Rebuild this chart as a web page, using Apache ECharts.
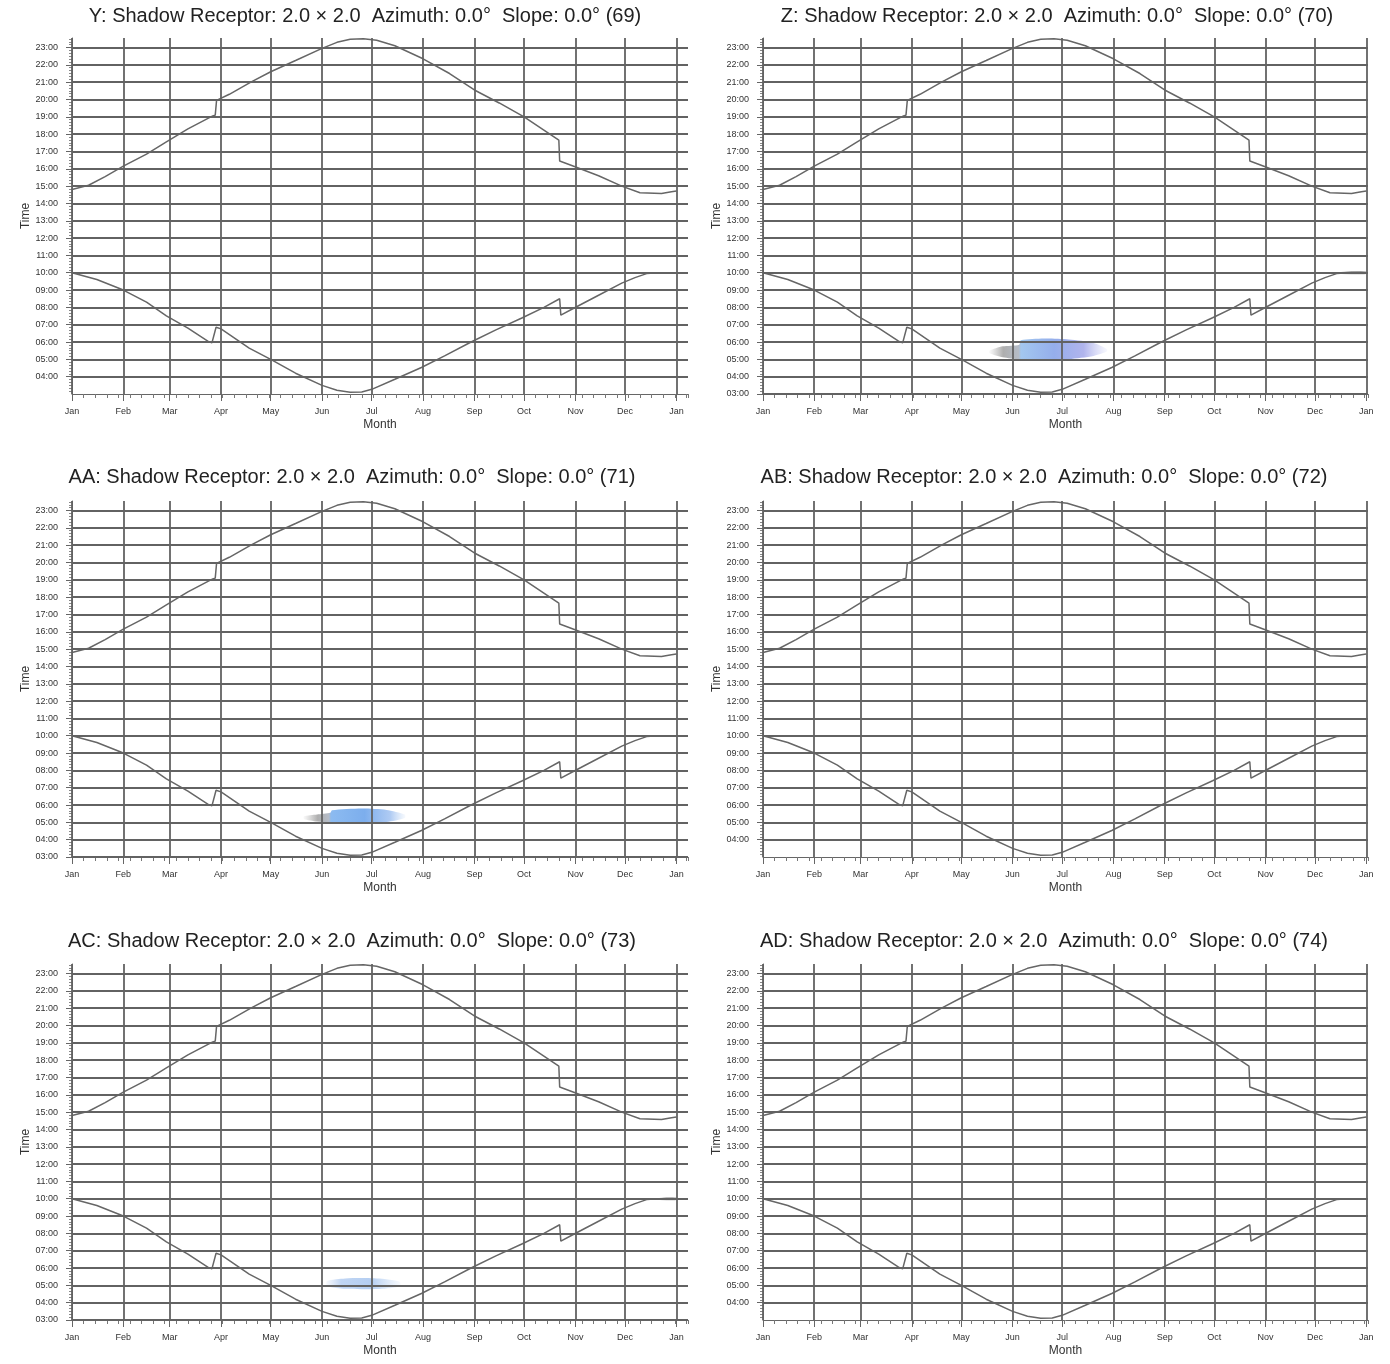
<!DOCTYPE html>
<html><head><meta charset="utf-8">
<script src="https://cdn.jsdelivr.net/npm/echarts@6/dist/echarts.min.js"></script>
<style>html,body{margin:0;padding:0;background:#fff}#c{width:1390px;height:1364px}</style>
</head><body><div id="c"></div>
<script>
// ---------- DATA ----------
const monthLabels = ['Jan','Feb','Mar','Apr','May','Jun','Jul','Aug','Sep','Oct','Nov','Dec','Jan'];
const monthStarts = [0,31,59,90,120,151,181,212,243,273,304,334,365];
const timeTicksFrom4 = [4,5,6,7,8,9,10,11,12,13,14,15,16,17,18,19,20,21,22,23];
const timeTicksFrom3 = [3,4,5,6,7,8,9,10,11,12,13,14,15,16,17,18,19,20,21,22,23];
const panelTitles = [
  'Y: Shadow Receptor: 2.0 \u00d7 2.0  Azimuth: 0.0\u00b0  Slope: 0.0\u00b0 (69)',
  'Z: Shadow Receptor: 2.0 \u00d7 2.0  Azimuth: 0.0\u00b0  Slope: 0.0\u00b0 (70)',
  'AA: Shadow Receptor: 2.0 \u00d7 2.0  Azimuth: 0.0\u00b0  Slope: 0.0\u00b0 (71)',
  'AB: Shadow Receptor: 2.0 \u00d7 2.0  Azimuth: 0.0\u00b0  Slope: 0.0\u00b0 (72)',
  'AC: Shadow Receptor: 2.0 \u00d7 2.0  Azimuth: 0.0\u00b0  Slope: 0.0\u00b0 (73)',
  'AD: Shadow Receptor: 2.0 \u00d7 2.0  Azimuth: 0.0\u00b0  Slope: 0.0\u00b0 (74)'
];
// upper boundary (sunset), day of year -> hour
const sunsetDays  = [0,10,20,31,45,57,70,85,86.5,87.3,95,108,120,135,151,160,168,176,184,195,212,228,243,258,273,287,294,294.5,303,318,332,343,356,362,365];
const sunsetTimes = [14.8,15.05,15.55,16.15,16.85,17.55,18.3,19.05,19.1,19.95,20.3,21.0,21.6,22.25,22.95,23.3,23.48,23.5,23.42,23.1,22.35,21.5,20.55,19.8,19.0,18.1,17.65,16.45,16.15,15.6,15.0,14.62,14.58,14.68,14.72];
// lower boundary (sunrise)
const sunriseDays  = [0,15,31,45,57,70,82,84.5,85.5,87,90,107,120,135,151,160,168,175,181,195,211,225,241,256,272,285,294.5,295.2,303,318,332,340,347,354];
const sunriseTimes = [10.0,9.61,9.0,8.3,7.51,6.8,6.05,5.95,5.9,6.85,6.76,5.65,5.0,4.2,3.5,3.22,3.1,3.12,3.27,3.85,4.53,5.2,6.0,6.7,7.4,8.0,8.5,7.55,7.95,8.7,9.4,9.72,9.95,10.0];
// shadow periods
const shadowZDays  = [137,145,155,156,170,185,200,208];
const shadowZLow   = [5.35,5.12,5.0,5.0,4.98,5.02,5.2,5.45];
const shadowZHigh  = [5.5,5.75,5.85,6.1,6.2,6.15,5.95,5.6];
const shadowZEndDays = [350,365];
const shadowZEndLow  = [9.93,9.93];
const shadowZEndHigh = [10.07,10.07];
const shadowAADays = [140,148,156,157,175,190,201];
const shadowAALow  = [5.2,5.05,5.0,4.98,4.98,5.02,5.25];
const shadowAAHigh = [5.35,5.45,5.55,5.7,5.8,5.72,5.45];
const shadowACDays = [154,165,178,190,198];
const shadowACLow  = [4.95,4.8,4.78,4.82,4.95];
const shadowACHigh = [5.25,5.4,5.42,5.35,5.2];
const shadowACEndDays = [355,365];
const shadowACEndLow  = [9.93,9.93];
const shadowACEndHigh = [10.07,10.07];

// ---------- LAYOUT ----------
const colLeft = [72, 763];
const colWidth = [616, 605];
const colMax = [372, 366];
const rowTop = [38, 501, 964];
const gridH = 356;
const titleCenter = [[360,1052],[347,1039],[347,1039]];
const titleTop = [1, 462, 926];
const YMIN = 3, YMAX = 23.55;

function grad(stops){ return new echarts.graphic.LinearGradient(0,0,1,0,stops); }

const panels = [
  {ticks: timeTicksFrom4, bands: []},
  {ticks: timeTicksFrom3, bands: [
    {d: shadowZDays, l: shadowZLow, h: shadowZHigh, fill: grad([
      {offset:0,color:'rgba(160,160,160,0.05)'},{offset:0.12,color:'rgba(140,140,140,0.7)'},
      {offset:0.25,color:'rgba(150,160,175,0.7)'},{offset:0.27,color:'rgba(140,185,235,0.8)'},
      {offset:0.55,color:'rgba(130,160,232,0.85)'},{offset:0.8,color:'rgba(150,155,230,0.75)'},
      {offset:1,color:'rgba(180,185,240,0.1)'}])},
    {d: shadowZEndDays, l: shadowZEndLow, h: shadowZEndHigh, fill: grad([
      {offset:0,color:'rgba(150,150,150,0.1)'},{offset:0.4,color:'rgba(130,130,130,0.7)'},{offset:1,color:'rgba(130,130,130,0.8)'}])}
  ]},
  {ticks: timeTicksFrom3, bands: [
    {d: shadowAADays, l: shadowAALow, h: shadowAAHigh, fill: grad([
      {offset:0,color:'rgba(160,160,160,0.05)'},{offset:0.14,color:'rgba(140,140,140,0.7)'},
      {offset:0.25,color:'rgba(150,160,175,0.7)'},{offset:0.27,color:'rgba(120,175,238,0.85)'},
      {offset:0.6,color:'rgba(110,165,235,0.9)'},{offset:0.85,color:'rgba(140,180,238,0.7)'},
      {offset:1,color:'rgba(170,200,240,0.1)'}])}
  ]},
  {ticks: timeTicksFrom4, bands: []},
  {ticks: timeTicksFrom3, bands: [
    {d: shadowACDays, l: shadowACLow, h: shadowACHigh, fill: grad([
      {offset:0,color:'rgba(170,195,235,0.1)'},{offset:0.2,color:'rgba(150,185,235,0.6)'},
      {offset:0.6,color:'rgba(140,180,235,0.65)'},{offset:1,color:'rgba(170,200,240,0.1)'}])},
    {d: shadowACEndDays, l: shadowACEndLow, h: shadowACEndHigh, fill: grad([
      {offset:0,color:'rgba(150,150,150,0.1)'},{offset:0.4,color:'rgba(130,130,130,0.7)'},{offset:1,color:'rgba(130,130,130,0.8)'}])}
  ]},
  {ticks: timeTicksFrom4, bands: []}
];

const FONT = 'Liberation Sans';
const titles = [], grids = [], xAxes = [], yAxes = [], series = [];
const pad2 = h => (h < 10 ? '0' : '') + h + ':00';

panels.forEach((p, i) => {
  const row = Math.floor(i / 2), col = i % 2;
  titles.push({
    text: panelTitles[i], left: titleCenter[row][col], top: titleTop[row], textAlign: 'center',
    textStyle: {fontFamily: FONT, fontSize: 20, fontWeight: 'normal', color: '#222'}
  });
  grids.push({left: colLeft[col], top: rowTop[row], width: colWidth[col], height: gridH, containLabel: false});
  xAxes.push({
    type: 'value', gridIndex: i, min: 0, max: colMax[col], interval: 7,
    name: 'Month', nameLocation: 'middle', nameGap: 25,
    nameTextStyle: {fontFamily: FONT, fontSize: 12, color: '#333'},
    axisLine: {show: true, onZero: false, lineStyle: {color: '#666', width: 1}},
    axisTick: {show: true, length: 4, lineStyle: {color: '#777'}},
    axisLabel: {show: true, customValues: monthStarts, margin: 13, fontFamily: FONT, fontSize: 9, color: '#333',
      formatter: v => { const k = monthStarts.indexOf(v); return k >= 0 ? monthLabels[k] : ''; }},
    splitLine: {show: false}
  });
  xAxes.push({
    type: 'value', gridIndex: i, min: 0, max: colMax[col], position: 'bottom',
    axisLine: {show: false}, axisLabel: {show: false}, splitLine: {show: false},
    axisTick: {show: true, customValues: monthStarts, length: 7, lineStyle: {color: '#666', width: 1}}
  });
  yAxes.push({
    type: 'value', gridIndex: i, min: YMIN, max: YMAX, interval: 1,
    name: 'Time', nameLocation: 'middle', nameGap: 40,
    nameTextStyle: {fontFamily: FONT, fontSize: 12, color: '#333'},
    axisLine: {show: true, onZero: false, lineStyle: {color: '#666', width: 1}},
    axisTick: {show: true, customValues: p.ticks, length: 6, lineStyle: {color: '#666'}},
    minorTick: {show: true, splitNumber: 6, length: 3, lineStyle: {color: '#888'}},
    axisLabel: {show: true, customValues: p.ticks, margin: 14, fontFamily: FONT, fontSize: 9, color: '#333', formatter: pad2},
    splitLine: {show: false}
  });
  const gridLines = monthStarts.map(d => ({xAxis: d})).concat(p.ticks.map(h => ({yAxis: h})));
  series.push({
    type: 'line', xAxisIndex: 2 * i, yAxisIndex: i, z: 1, silent: true,
    data: [], showSymbol: false,
    markLine: {silent: true, symbol: 'none', animation: false, label: {show: false},
      lineStyle: {color: '#626262', width: 1.8, type: 'solid'}, emphasis: {disabled: true}, data: gridLines}
  });
  p.bands.forEach(b => {
    series.push({
      type: 'custom', xAxisIndex: 2 * i, yAxisIndex: i, z: 2, silent: true,
      data: b.d.map((d, k) => [d, b.l[k], b.h[k]]),
      encode: {x: 0, y: [1, 2]},
      renderItem: function (params, api) {
        if (params.dataIndex !== 0) return null;
        const pts = [];
        for (let k = 0; k < b.d.length; k++) pts.push(api.coord([b.d[k], b.h[k]]));
        for (let k = b.d.length - 1; k >= 0; k--) pts.push(api.coord([b.d[k], b.l[k]]));
        return {type: 'polygon', shape: {points: pts, smooth: 0.25}, style: {fill: b.fill}};
      }
    });
  });
  series.push({
    type: 'line', xAxisIndex: 2 * i, yAxisIndex: i, z: 3, silent: true, showSymbol: false,
    lineStyle: {color: '#666', width: 1.5},
    data: sunsetDays.map((d, k) => [d, sunsetTimes[k]])
  });
  series.push({
    type: 'line', xAxisIndex: 2 * i, yAxisIndex: i, z: 3, silent: true, showSymbol: false,
    lineStyle: {color: '#666', width: 1.5},
    data: sunriseDays.map((d, k) => [d, sunriseTimes[k]])
  });
});

const chart = echarts.init(document.getElementById('c'));
chart.setOption({
  animation: false,
  backgroundColor: '#fff',
  title: titles, grid: grids, xAxis: xAxes, yAxis: yAxes, series: series
});
</script></body></html>
